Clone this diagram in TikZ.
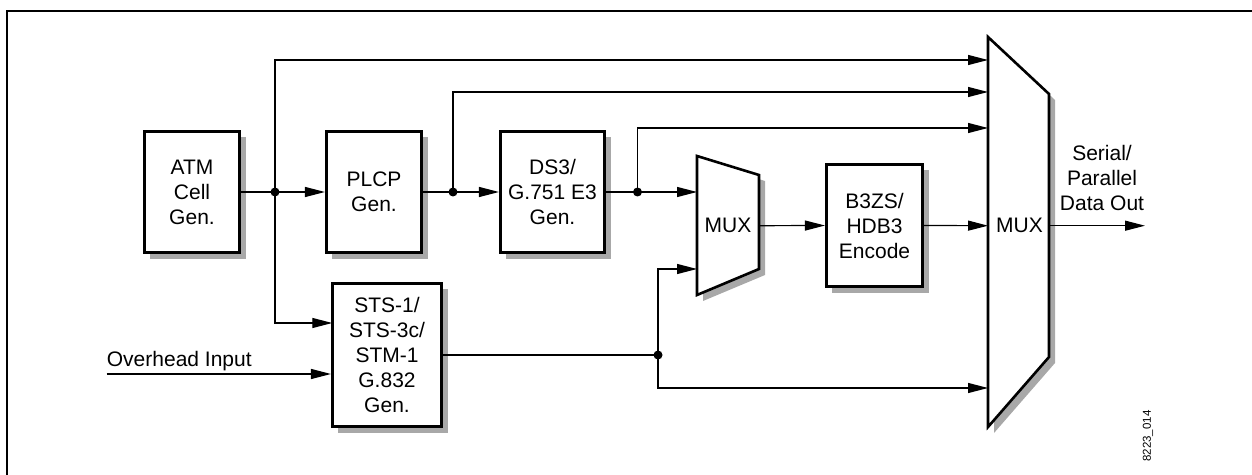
\documentclass[tikz,border=0pt]{standalone}
\usepackage{fontspec}
\setmainfont{Liberation Sans}
\usetikzlibrary{arrows.meta,shadows}
\definecolor{shd}{gray}{0.66}
\begin{document}
\begin{tikzpicture}[x=0.5pt,y=-0.5pt,
  blk/.style={draw, line width=1.3pt, fill=white, inner sep=0pt, align=center,
    font=\fontsize{10.5}{12.5}\selectfont,
    drop shadow={shadow xshift=3pt, shadow yshift=-3pt, fill=shd, opacity=1}},
  wire/.style={line width=0.6pt},
  arr/.style={wire, -{Triangle[length=10pt,width=5pt]}},
  dot/.style={circle, fill, inner sep=0pt, minimum size=4.5pt},
  lbl/.style={font=\fontsize{10.5}{12.5}\selectfont, align=center, inner sep=0pt},
  muxshape/.style={line width=1.3pt, fill=white, line join=miter},
  muxshadow/.style={fill=shd, xshift=3pt, yshift=-3pt},
]
\useasboundingbox (0,0) rectangle (1252,475);
\draw[line width=0.85pt] (1252,11) -- (7,11) -- (7,475);

% blocks
\node[blk, minimum width=47.75pt, minimum height=60.75pt] (atm) at (192,192) {ATM\\Cell\\Gen.};
\node[blk, minimum width=47.75pt, minimum height=60.75pt] (plcp) at (374,192) {PLCP\\Gen.};
\node[blk, minimum width=52.25pt, minimum height=60.75pt] (ds3) at (552.5,192) {DS3/\\G.751 E3\\Gen.};
\node[blk, minimum width=48.25pt, minimum height=61.25pt] (b3zs) at (874.5,225.5) {B3ZS/\\HDB3\\Encode};
\node[blk, minimum width=54.75pt, minimum height=71.75pt] (sts) at (387,355) {STS-1/\\STS-3c/\\STM-1\\G.832\\Gen.};

% small mux
\fill[muxshadow] (697,156) -- (759,175) -- (759,269) -- (697,295) -- cycle;
\draw[muxshape] (697,156) -- (759,175) -- (759,269) -- (697,295) -- cycle;
\node[lbl] (smux) at (728,225.5) {MUX};
% big mux
\fill[muxshadow] (988,37) -- (1049,94) -- (1049,357) -- (988,427) -- cycle;
\draw[muxshape] (988,37) -- (1049,94) -- (1049,357) -- (988,427) -- cycle;
\node[lbl] (bmux) at (1019.5,225.5) {MUX};

% connection points
\coordinate (sin1) at (697,192);
\coordinate (sin2) at (697,269);
\coordinate (sout) at (759,225.7);
\coordinate (bin1) at (988,60);
\coordinate (bin2) at (988,92);
\coordinate (bin3) at (988,128);
\coordinate (bin4) at (988,225.7);
\coordinate (bin5) at (988,388);
\coordinate (bout) at (1049,225.7);
\coordinate (outend) at (1145,225.7);
\coordinate (ohin) at (106.5,374);
\coordinate (stsin) at (332.25,323);

\node[dot] (j1) at (275,192) {};
\node[dot] (j2) at (453,192) {};
\node[dot] (j3) at (637.5,192) {};
\node[dot] (j4) at (658,355) {};

% connectors
\draw[arr] (atm) -- (plcp);
\draw[arr] (plcp) -- (ds3);
\draw[arr] (ds3.east) -- (sin1);
\draw[arr] (sout) -- (b3zs.west);
\draw[arr] (b3zs.east) -- (bin4);
\draw[arr] (bout) -- (outend);
\draw[arr] (j1.center) |- (bin1);
\draw[arr] (j2.center) |- (bin2);
\draw[arr] (j3.center) |- (bin3);
\draw[arr] (j1.center) |- (stsin);
\draw[arr] (ohin) -- (ohin -| sts.west);
\draw[wire] (sts.east) -- (j4.center);
\draw[arr] (j4.center) |- (sin2);
\draw[arr] (j4.center) |- (bin5);

% labels
\node[lbl, anchor=base west] (ohlbl) at (106.5,366.7) {Overhead Input};
\node[lbl] (outlbl) at (1102,177.5) {Serial/\\Parallel\\Data Out};
\node[font=\fontsize{5.75}{6}\selectfont, rotate=90, inner sep=0pt] (figid) at (1148,436) {8223\_014};
\end{tikzpicture}
\end{document}
